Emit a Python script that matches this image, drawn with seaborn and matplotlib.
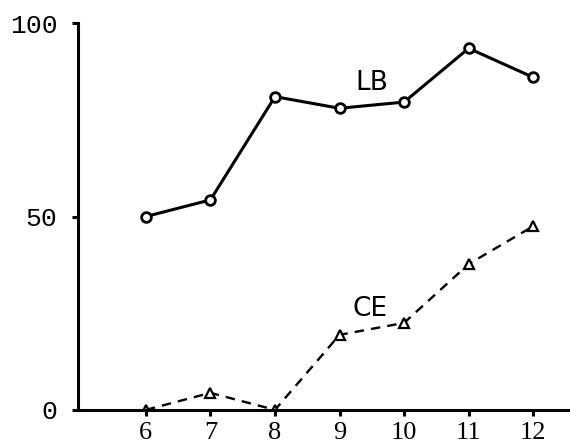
import matplotlib
matplotlib.use("Agg")
import matplotlib.pyplot as plt
import seaborn as sns
import pandas as pd

ages = [6, 7, 8, 9, 10, 11, 12]
lb_values = [50, 54.3, 81, 78, 79.6, 93.5, 86]
ce_values = [0, 4.4, 0, 19.4, 22.5, 37.7, 47.5]
y_ticks = [0, 50, 100]

sns.set_theme(style="white")
plt.rcParams['font.family'] = ['Liberation Serif', 'DejaVu Serif']
plt.rcParams['text.color'] = 'black'

fig = plt.figure(figsize=(5.7, 4.46), dpi=100)
ax = fig.add_axes([0.137, 0.081, 0.863, 0.867])

df_lb = pd.DataFrame({"age": ages, "val": lb_values})
df_ce = pd.DataFrame({"age": ages, "val": ce_values})

sns.lineplot(data=df_lb, x="age", y="val", ax=ax, color="black", lw=2.2,
             marker="o", markersize=7, markerfacecolor="white",
             markeredgecolor="black", markeredgewidth=2.0)
sns.lineplot(data=df_ce, x="age", y="val", ax=ax, color="black", lw=1.7,
             linestyle=(0, (4, 3)),
             marker="^", markersize=7, markerfacecolor="white",
             markeredgecolor="black", markeredgewidth=1.6)

ax.text(9.5, 84.5, "LB", fontsize=19, family=["DejaVu Sans"], color="black",
        ha="center", va="center")
ax.text(9.47, 26, "CE", fontsize=19, family=["DejaVu Sans"], color="black",
        ha="center", va="center")

ax.set_xlim(4.95, 12.57)
ax.set_ylim(0, 100)
ax.set_xticks(ages)
ax.set_xticklabels([str(a) for a in ages], fontsize=19)
ax.set_yticks(y_ticks)
ax.set_yticklabels([str(v) for v in y_ticks], fontsize=19, family=["Liberation Mono"])
ax.set_xlabel("")
ax.set_ylabel("")

for s in ["top", "right"]:
    ax.spines[s].set_visible(False)
for s in ["left", "bottom"]:
    ax.spines[s].set_linewidth(2.2)
    ax.spines[s].set_color("black")

ax.tick_params(axis="both", which="both", direction="out", length=4, width=2.2,
               color="black", labelcolor="black", left=True, bottom=True)
ax.tick_params(axis="y", pad=11)
ax.tick_params(axis="x", pad=5)

fig.savefig("out.png", dpi=100, facecolor="white")
